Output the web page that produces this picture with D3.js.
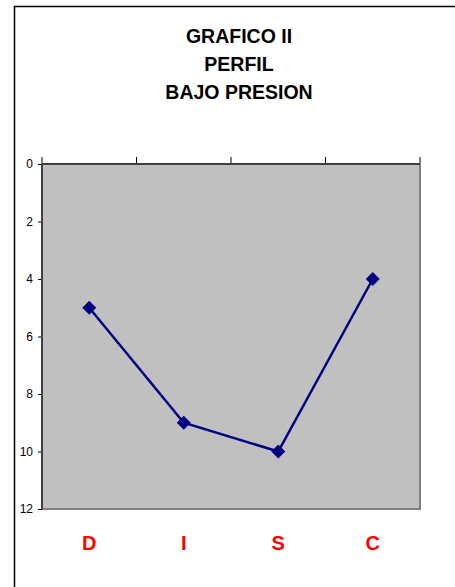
<!DOCTYPE html>
<html>
<head>
<meta charset="utf-8">
<script src="https://cdn.jsdelivr.net/npm/d3@7"></script>
<style>
  body { margin: 0; background: #fff; }
  svg { display: block; font-family: Arial, "Liberation Sans", sans-serif; }
</style>
</head>
<body>
<div id="chart"></div>
<script>
const titleLines = ["GRAFICO II", "PERFIL", "BAJO PRESION"];
const categories = ["D", "I", "S", "C"];
const values = [5, 9, 10, 4];
const yTicks = [0, 2, 4, 6, 8, 10, 12];

const W = 455, H = 587;
const margin = { top: 164, right: 35, bottom: 78, left: 42 };
const width = W - margin.left - margin.right;
const height = H - margin.top - margin.bottom;

const svg = d3.select("#chart").append("svg")
  .attr("width", W)
  .attr("height", H);

// outer chart border (only top/left visible)
svg.append("rect")
  .attr("x", 14.5).attr("y", 6.5)
  .attr("width", W).attr("height", H)
  .attr("fill", "none").attr("stroke", "#000").attr("stroke-width", 1.5);

// title
svg.append("text")
  .attr("x", 239).attr("y", 43)
  .attr("text-anchor", "middle")
  .attr("font-weight", "bold")
  .attr("font-size", 19.5)
  .selectAll("tspan")
  .data(titleLines)
  .enter().append("tspan")
  .attr("x", 239)
  .attr("dy", (d, i) => i === 0 ? 0 : 28)
  .text(d => d);

const g = svg.append("g").attr("transform", `translate(${margin.left},${margin.top})`);

const x = d3.scaleBand().domain(categories).range([0, width]);
const y = d3.scaleLinear().domain([0, 12]).range([0, height]);

// plot area
g.append("rect")
  .attr("width", width).attr("height", height)
  .attr("fill", "#c0c0c0");
g.append("path")
  .attr("d", `M${width},0V${height}H0`)
  .attr("fill", "none").attr("stroke", "#808080").attr("stroke-width", 2);

// y axis
const yAxis = g.append("g")
  .call(d3.axisLeft(y).tickValues(yTicks).tickSize(4).tickPadding(5));
yAxis.select(".domain").remove();
yAxis.selectAll(".tick line").attr("stroke", "#000");
yAxis.selectAll("text").attr("font-size", 12).attr("fill", "#000")
  .attr("font-family", "Arial, 'Liberation Sans', sans-serif");

// top axis with ticks at category boundaries
const bounds = categories.map(c => x(c)).concat([width]);
g.selectAll(".xtick").data(bounds).enter().append("line")
  .attr("class", "xtick")
  .attr("x1", d => d).attr("x2", d => d)
  .attr("y1", -7).attr("y2", 0)
  .attr("stroke", "#000").attr("stroke-width", 1);

g.append("path")
  .attr("d", `M0,${height}V0H${width}`)
  .attr("fill", "none").attr("stroke", "#404040").attr("stroke-width", 2);

// category labels
g.selectAll(".cat").data(categories).enter().append("text")
  .attr("class", "cat")
  .attr("x", d => x(d) + x.bandwidth() / 2)
  .attr("y", height + 41)
  .attr("text-anchor", "middle")
  .attr("font-weight", "bold")
  .attr("font-size", 20)
  .attr("fill", "#ff0000")
  .text(d => d);

// line
const pts = categories.map((c, i) => [x(c) + x.bandwidth() / 2, y(values[i])]);
g.append("path")
  .attr("d", d3.line()(pts))
  .attr("fill", "none")
  .attr("stroke", "#000080")
  .attr("stroke-width", 2.5);

g.selectAll(".marker").data(pts).enter().append("path")
  .attr("class", "marker")
  .attr("transform", d => `translate(${d[0]},${d[1]})`)
  .attr("d", "M0,-7L7,0L0,7L-7,0Z")
  .attr("fill", "#000080");
</script>
</body>
</html>
